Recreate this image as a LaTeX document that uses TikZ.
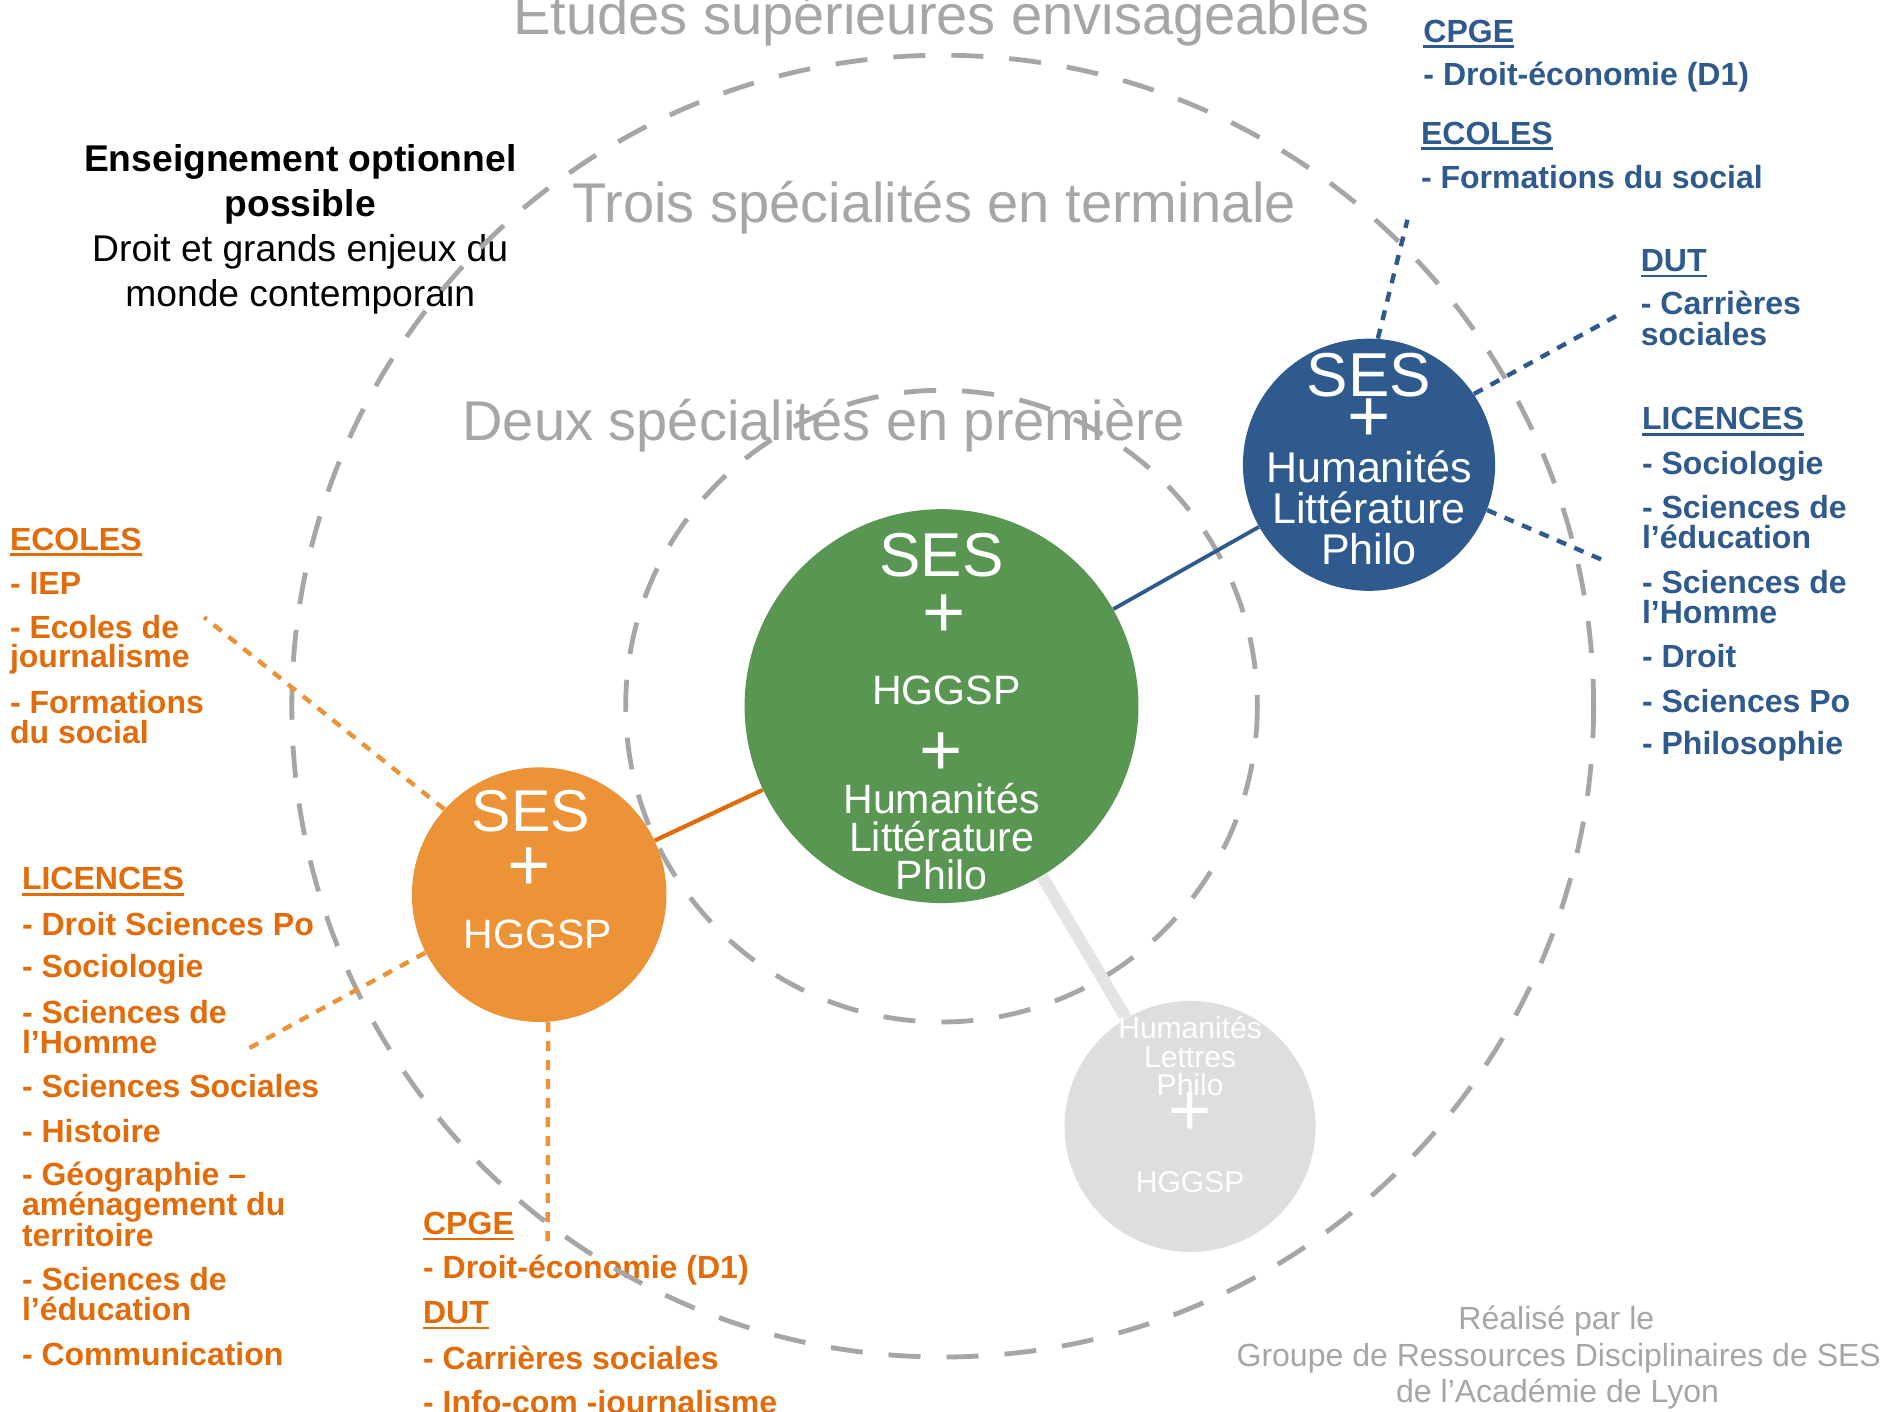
\documentclass[tikz,border=0pt]{standalone}
\usepackage{fontspec}
\setmainfont{Liberation Sans}
\newcommand{\myul}[1]{\setbox0\hbox{#1}\rlap{\rule[-2.9pt]{\wd0}{1.3pt}}\box0}
\definecolor{cblue}{RGB}{46,90,142}
\definecolor{corange}{RGB}{227,108,10}
\definecolor{corlight}{RGB}{236,146,55}
\definecolor{cgreen}{RGB}{89,150,82}
\definecolor{cgray}{RGB}{166,166,166}
\definecolor{clight}{RGB}{222,222,222}
\definecolor{clightline}{RGB}{228,228,228}
\tikzset{
  lst/.style={anchor=base west, inner sep=0pt, font=\fontsize{16}{16}\selectfont\bfseries},
  bl/.style={lst, text=cblue},
  orl/.style={lst, text=corange},
  ttl/.style={anchor=base, inner sep=0pt, text=cgray, font=\fontsize{28}{28}\selectfont},
  opt/.style={anchor=base, inner sep=0pt, text=black, font=\fontsize{18.6}{18.6}\selectfont},
  foot/.style={anchor=base, inner sep=0pt, text=cgray, font=\fontsize{16}{16}\selectfont},
  ct/.style={anchor=base, inner sep=0pt, text=white},
  plus/.style={anchor=center, inner sep=0pt, text=white, font=\fontsize{37}{37}\selectfont},
  dcirc/.style={draw=cgray, line width=2.4pt, dash pattern=on 16pt off 13pt},
  bdot/.style={draw=cblue, line width=2.2pt, dash pattern=on 5pt off 4.5pt},
  odot/.style={draw=corlight, line width=2.2pt, dash pattern=on 5pt off 4.5pt},
  disc/.style={circle, inner sep=0pt, draw=none},
}
\begin{document}
\begin{tikzpicture}[x=0.6pt,y=-0.6pt]
\fill[white] (0,0) rectangle (1568,1175);
\useasboundingbox (0,0) rectangle (1568,1175);

% titles
\node[ttl] (t1) at (784,29) {Etudes supérieures envisageables};
\node[ttl] (t2) at (778,185) {Trois spécialités en terminale};
\node[ttl] (t3) at (686,367) {Deux spécialités en première};

% optional teaching
\node[opt, font=\fontsize{18.6}{18.6}\selectfont\bfseries] (o1) at (250,143) {Enseignement optionnel};
\node[opt, font=\fontsize{18.6}{18.6}\selectfont\bfseries] (o2) at (250,180) {possible};
\node[opt] (o3) at (250,218) {Droit et grands enjeux du};
\node[opt] (o4) at (250,255) {monde contemporain};

% right blue lists
\node[bl] (b1) at (1185,35) {\myul{CPGE}};
\node[bl] (b2) at (1185,71) {- Droit-économie (D1)};
\node[bl] (b3) at (1183,120) {\myul{ECOLES}};
\node[bl] (b4) at (1183,157) {- Formations du social};
\node[bl] (b5) at (1366,226) {\myul{DUT}};
\node[bl] (b6) at (1366,262) {- Carrières};
\node[bl] (b7) at (1366,288) {sociales};
\node[bl] (b8) at (1367,358) {\myul{LICENCES}};
\node[bl] (b9) at (1367,395) {- Sociologie};
\node[bl] (b10) at (1367,432) {- Sciences de};
\node[bl] (b11) at (1367,457) {l’éducation};
\node[bl] (b12) at (1367,494) {- Sciences de};
\node[bl] (b13) at (1367,519) {l’Homme};
\node[bl] (b14) at (1367,556) {- Droit};
\node[bl] (b15) at (1367,593) {- Sciences Po};
\node[bl] (b16) at (1367,628) {- Philosophie};

% left orange lists
\node[orl] (e1) at (8,458) {\myul{ECOLES}};
\node[orl] (e2) at (8,495) {- IEP};
\node[orl] (e3) at (8,532) {- Ecoles de};
\node[orl] (e4) at (8,556) {journalisme};
\node[orl] (e5) at (8,594) {- Formations};
\node[orl] (e6) at (8,619) {du social};

\node[orl] (l1) at (18,741) {\myul{LICENCES}};
\node[orl] (l2) at (18,779) {- Droit Sciences Po};
\node[orl] (l3) at (18,814) {- Sociologie};
\node[orl] (l4) at (18,852) {- Sciences de};
\node[orl] (l5) at (18,877) {l’Homme};
\node[orl] (l6) at (18,914) {- Sciences Sociales};
\node[orl] (l7) at (18,951) {- Histoire};
\node[orl] (l8) at (18,987) {- Géographie –};
\node[orl] (l9) at (18,1012) {aménagement du};
\node[orl] (l10) at (18,1038) {territoire};
\node[orl] (l11) at (18,1075) {- Sciences de};
\node[orl] (l12) at (18,1100) {l’éducation};
\node[orl] (l13) at (18,1137) {- Communication};

\node[orl] (c1) at (352,1028) {\myul{CPGE}};
\node[orl] (c2) at (352,1065) {- Droit-économie (D1)};
\node[orl] (c3) at (352,1102) {\myul{DUT}};
\node[orl] (c4) at (352,1140) {- Carrières sociales};
\node[orl] (c5) at (352,1177) {- Info-com -journalisme};

% footer
\node[foot] (f1) at (1296,1107) {Réalisé par le};
\node[foot] (f2) at (1298,1138) {Groupe de Ressources Disciplinaires de SES};
\node[foot] (f3) at (1297,1168) {de l’Académie de Lyon};

% dashed circles
\draw[dcirc] (785,588) circle[radius=542];
\draw[dcirc] (784,588) circle[radius=263];

% discs
\node[disc, fill=cgreen, minimum size=196.8pt] (green) at (784,588) {};
\node[disc, fill=cblue, minimum size=126pt] (blue) at (1140,387) {};
\node[disc, fill=corlight, minimum size=127.2pt] (orange) at (449,745) {};
\node[disc, fill=clight, minimum size=125.4pt] (grey) at (991,938) {};

% connectors
\draw[cblue, line width=1.9pt] (green) -- (blue);
\draw[corange, line width=2.1pt] (green) -- (orange);
\draw[clightline, line width=6pt] (green) -- (grey);

% dotted connectors
\coordinate (bc1) at (1172,183);
\coordinate (bc2) at (1346,263);
\coordinate (bc3) at (1336,467);
\draw[bdot] (blue.86) -- (bc1);
\draw[bdot] (blue.34) -- (bc2);
\draw[bdot] (blue.-21) -- (bc3);
\coordinate (oc1) at (170,514);
\coordinate (oc2) at (207,873);
\coordinate (oc3) at (456,1040);
\draw[odot] (orange.138) -- (oc1);
\draw[odot] (orange.207) -- (oc2);
\draw[odot] (orange.-86) -- (oc3);

% green disc text
\node[ct, font=\fontsize{31}{31}\selectfont] (g1) at (784,480) {SES};
\node[plus] (g2) at (786,513) {+};
\node[ct, font=\fontsize{20.5}{20.5}\selectfont] (g3) at (788,587) {HGGSP};
\node[plus] (g4) at (784,628) {+};
\node[ct, font=\fontsize{20.5}{20.5}\selectfont] (g5) at (784,677) {Humanités};
\node[ct, font=\fontsize{20.5}{20.5}\selectfont] (g6) at (784,709) {Littérature};
\node[ct, font=\fontsize{20.5}{20.5}\selectfont] (g7) at (784,741) {Philo};

% blue disc text
\node[ct, font=\fontsize{31}{31}\selectfont] (u1) at (1140,330) {SES};
\node[plus] (u2) at (1140,350) {+};
\node[ct, font=\fontsize{21.5}{21.5}\selectfont] (u3) at (1140,402) {Humanités};
\node[ct, font=\fontsize{21.5}{21.5}\selectfont] (u4) at (1140,436) {Littérature};
\node[ct, font=\fontsize{21.5}{21.5}\selectfont] (u5) at (1140,470) {Philo};

% orange disc text
\node[ct, font=\fontsize{29.5}{29.5}\selectfont] (r1) at (442,692) {SES};
\node[plus] (r2) at (441,724) {+};
\node[ct, font=\fontsize{20.5}{20.5}\selectfont] (r3) at (448,790) {HGGSP};

% grey disc text
\node[ct, font=\fontsize{15}{15}\selectfont] (y1) at (991,865) {Humanités};
\node[ct, font=\fontsize{15}{15}\selectfont] (y2) at (991,889) {Lettres};
\node[ct, font=\fontsize{15}{15}\selectfont] (y3) at (991,912) {Philo};
\node[plus] (y4) at (991,928) {+};
\node[ct, font=\fontsize{15}{15}\selectfont] (y5) at (991,993) {HGGSP};
\end{tikzpicture}
\end{document}
